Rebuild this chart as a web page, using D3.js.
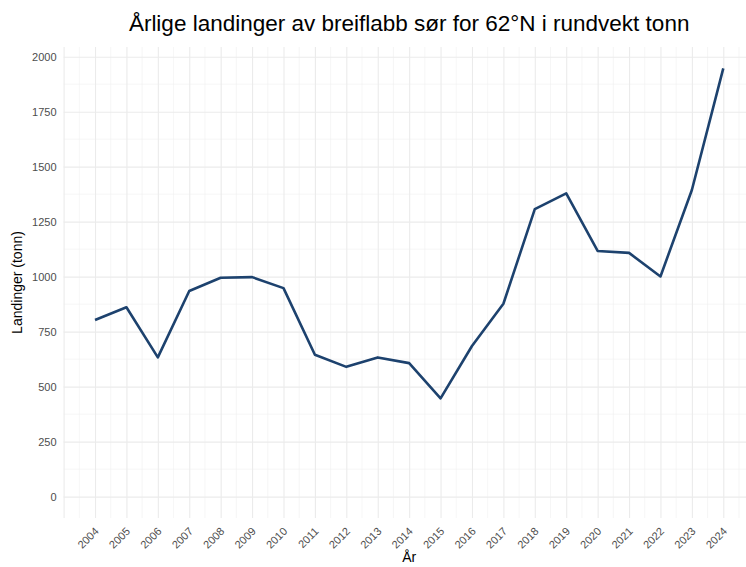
<!DOCTYPE html>
<html>
<head>
<meta charset="utf-8">
<script src="https://d3js.org/d3.v7.min.js"></script>
<style>
  body { margin: 0; background: #fff; }
  svg { display: block; font-family: "Liberation Sans", Arial, sans-serif; }
</style>
</head>
<body>
<svg></svg>
<script>
var svg_width = 746
var svg_height = 567

// Data
var years = [2004, 2005, 2006, 2007, 2008, 2009, 2010, 2011, 2012, 2013, 2014,
             2015, 2016, 2017, 2018, 2019, 2020, 2021, 2022, 2023, 2024]
var landings = [803, 861, 633, 935, 995, 998, 948, 645, 590, 633, 607,
                447, 685, 877, 1307, 1379, 1117, 1108, 1001, 1394, 1947]
var yTicks = [0, 250, 500, 750, 1000, 1250, 1500, 1750, 2000]

var dataset = years.map(function(y, i) { return {year: y, value: landings[i]}; });

// panel edges
var pLeft = 63.6, pRight = 754.7, pTop = 47, pBottom = 518

var xScale = d3.scaleLinear()
               .domain([2003, 2025])
               .range([pLeft, pRight]);

var yScale = d3.scaleLinear()
               .domain([-97, 2044])
               .range([pBottom, pTop]);

var svg = d3.select("svg")
      .attr("width", svg_width)
      .attr("height", svg_height);

// minor grid
var minorX = d3.range(2003.5, 2025, 1);
var minorY = d3.range(125, 2000, 250);
svg.append("g")
    .selectAll("line")
    .data(minorX)
    .enter()
    .append("line")
      .attr("x1", function(d) { return xScale(d); })
      .attr("x2", function(d) { return xScale(d); })
      .attr("y1", pTop).attr("y2", pBottom)
      .attr("stroke", "#f0f0f0").attr("stroke-width", 0.6);
svg.append("g")
    .selectAll("line")
    .data(minorY)
    .enter()
    .append("line")
      .attr("y1", function(d) { return yScale(d); })
      .attr("y2", function(d) { return yScale(d); })
      .attr("x1", pLeft).attr("x2", pRight)
      .attr("stroke", "#f0f0f0").attr("stroke-width", 0.6);

// major grid via axes
var xAxis = d3.axisBottom(xScale)
              .tickValues(d3.range(2003, 2026))
              .tickSize(-(pBottom - pTop))
              .tickSizeOuter(0)
              .tickFormat(function(d) { return (d >= 2004 && d <= 2024) ? d : ""; });
var yAxis = d3.axisLeft(yScale)
              .tickValues(yTicks)
              .tickSize(-(pRight - pLeft))
              .tickSizeOuter(0)
              .tickFormat(d3.format("d"));

var gx = svg.append("g")
      .attr("transform", "translate(0," + pBottom + ")")
    .call(xAxis);
var gy = svg.append("g")
      .attr("transform", "translate(" + pLeft + ",0)")
    .call(yAxis);

[gx, gy].forEach(function(g) {
    g.select(".domain").remove();
    g.selectAll(".tick line").attr("stroke", "#ebebeb").attr("stroke-width", 1.1);
    g.selectAll(".tick text").attr("fill", "#4d4d4d").attr("font-size", "11px");
});

gy.selectAll(".tick text").attr("x", -7);

gx.selectAll(".tick text")
    .attr("text-anchor", "end")
    .attr("dy", null)
    .attr("y", 0)
    .attr("transform", "translate(4,14) rotate(-45)");

// line
var line = d3.line()
    .x(function(d) { return xScale(d.year); })
    .y(function(d) { return yScale(d.value); });

svg.append("path")
    .datum(dataset)
    .attr("d", line)
    .attr("fill", "none")
    .attr("stroke", "#1d426e")
    .attr("stroke-width", 2.6)
    .attr("stroke-linejoin", "round");

// labels
svg.append("text")
    .attr("x", (pLeft + pRight) / 2)
    .attr("y", 562)
    .attr("text-anchor", "middle")
    .attr("font-size", "14px")
    .text("År");

svg.append("text")
    .attr("transform", "rotate(-90)")
    .attr("x", -(pTop + pBottom) / 2)
    .attr("y", 22)
    .attr("text-anchor", "middle")
    .attr("font-size", "14px")
    .text("Landinger (tonn)");

svg.append("text")
    .attr("x", (pLeft + pRight) / 2)
    .attr("y", 31)
    .attr("text-anchor", "middle")
    .attr("font-size", "22.5px")
    .text("Årlige landinger av breiflabb sør for 62°N i rundvekt tonn");
</script>
</body>
</html>
